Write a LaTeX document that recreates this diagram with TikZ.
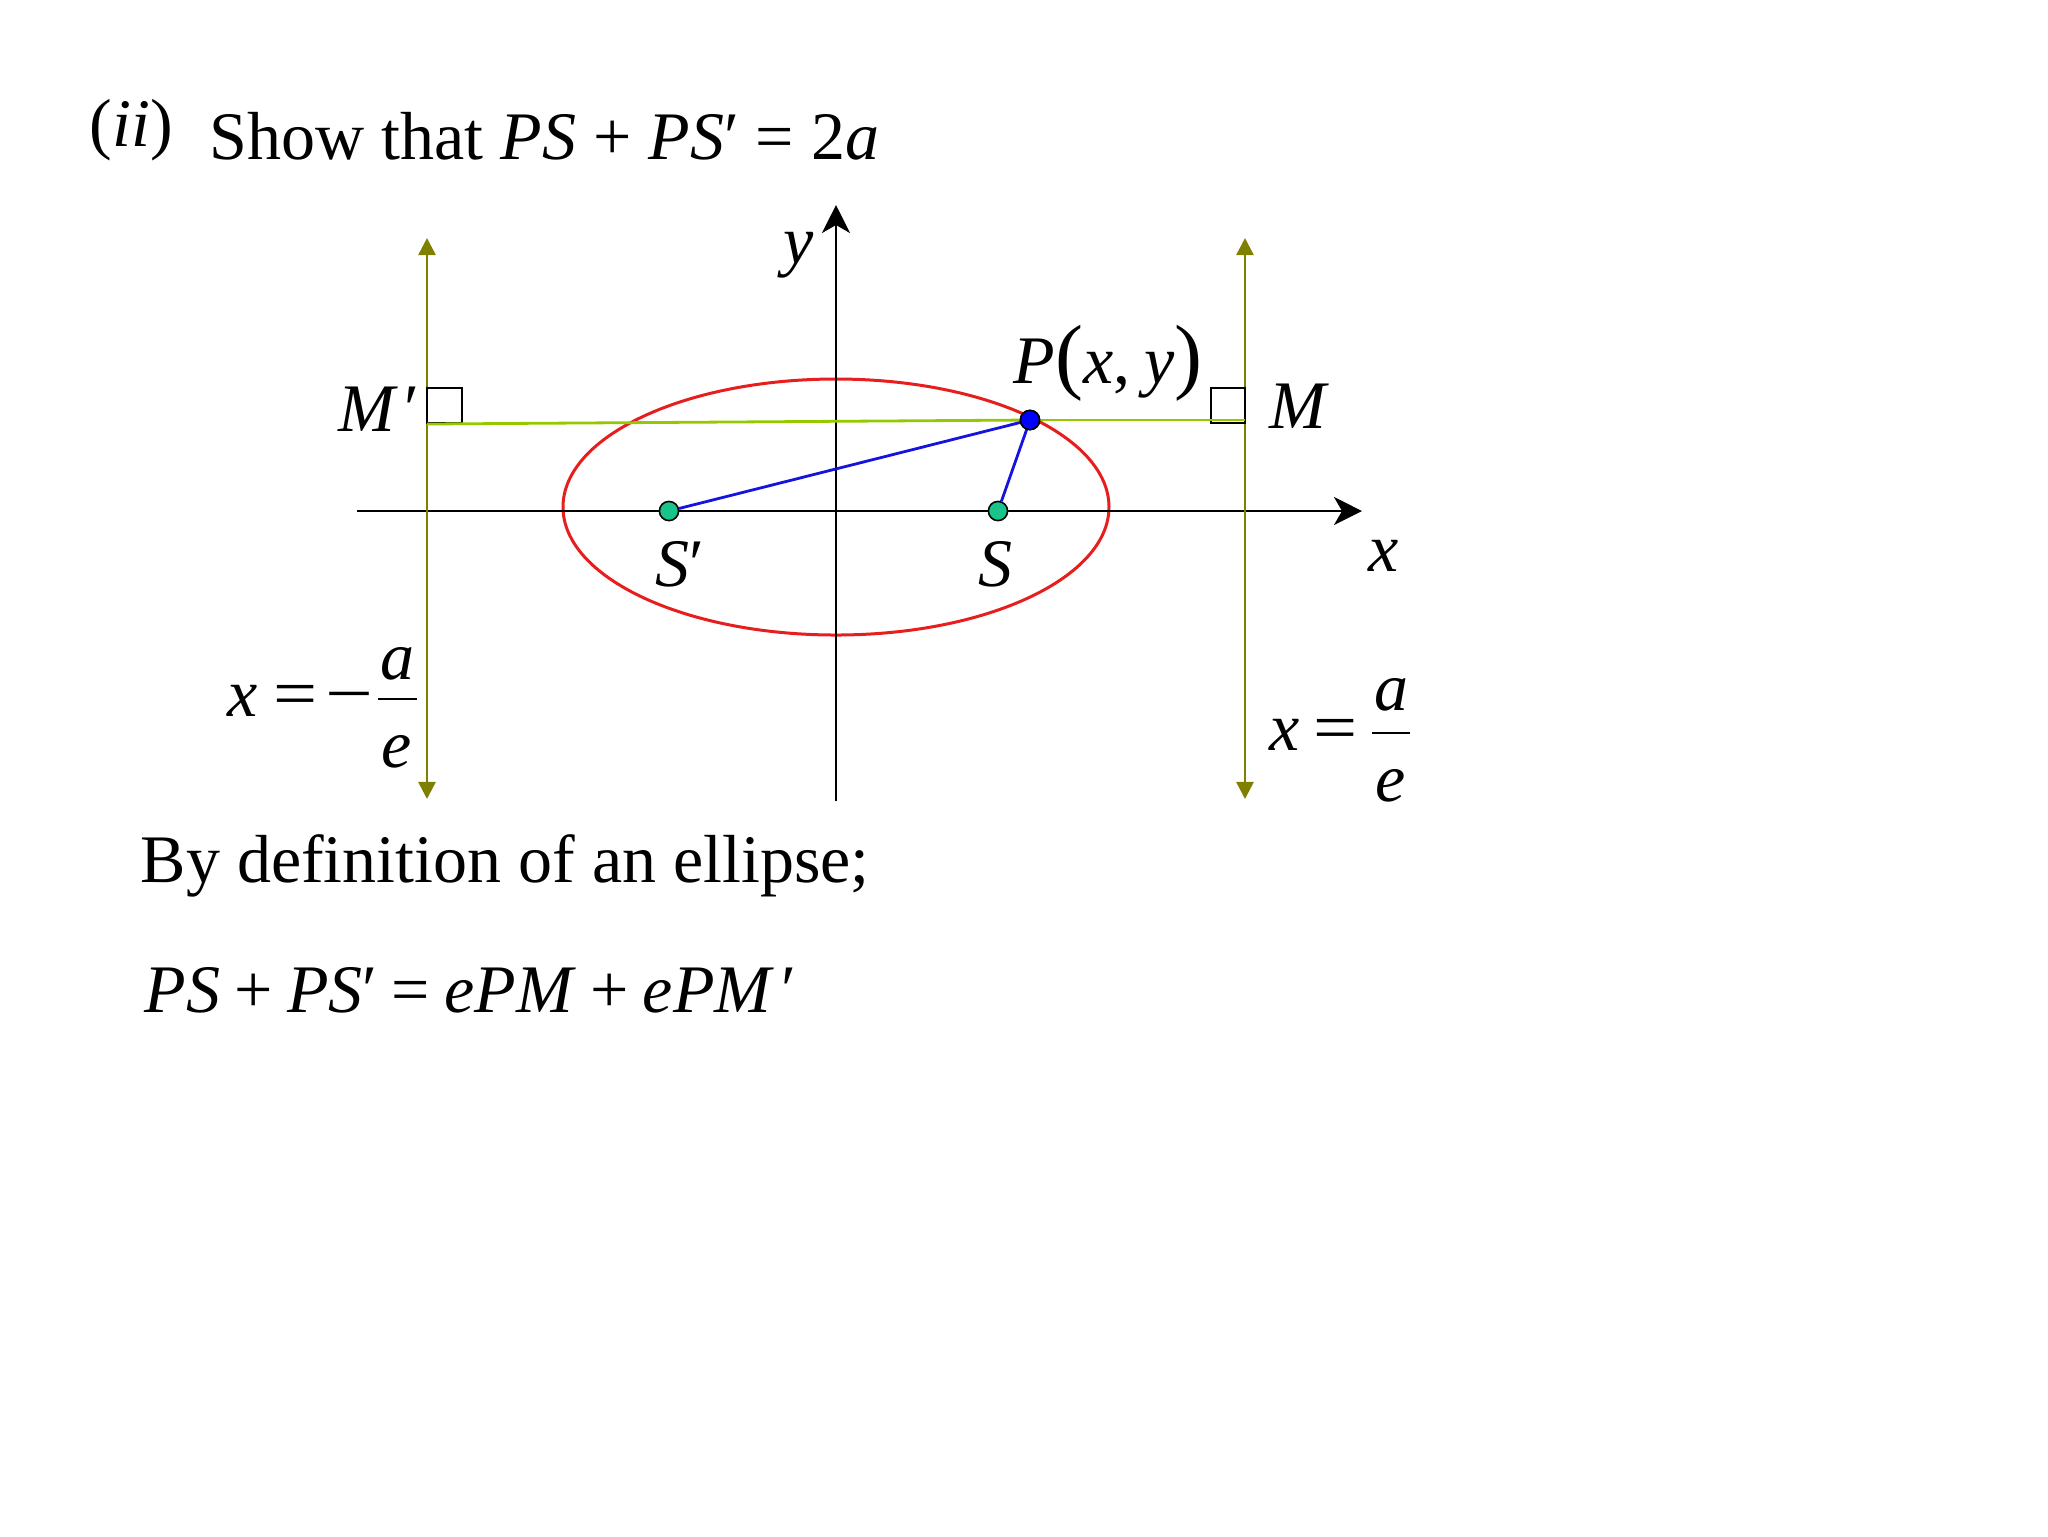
\documentclass[tikz,border=0pt]{standalone}
\usepackage{fontspec}
\usepackage{graphicx}
\setmainfont{Liberation Serif}
\usetikzlibrary{arrows.meta}
\definecolor{ellred}{RGB}{230,30,30}
\definecolor{dirolive}{RGB}{128,128,0}
\definecolor{lgreen}{RGB}{150,200,0}
\definecolor{segblue}{RGB}{20,20,220}
\definecolor{focgreen}{RGB}{25,195,140}
\newcommand{\gapsp}{\hspace{0.25em}}
\newcommand{\gapeq}{\hspace{0.21em}}
\tikzset{
  txt/.style={inner sep=0pt, font=\fontsize{17pt}{20pt}\selectfont},
  axis/.style={line width=0.55pt, -{Stealth[length=7pt,width=7pt,inset=2pt]}},
  directrix/.style={dirolive, line width=0.65pt, {Triangle[length=4.3pt,width=4.3pt]}-{Triangle[length=4.3pt,width=4.3pt]}},
  perp/.style={lgreen, line width=0.7pt},
  seg/.style={segblue, line width=0.7pt},
  focus/.style={circle, draw=black, fill=focgreen, line width=0.4pt, minimum size=4.8pt, inner sep=0pt},
  pdot/.style={circle, draw=black, fill=blue, line width=0.4pt, minimum size=4.8pt, inner sep=0pt},
  sqbox/.style={draw=black, line width=0.5pt}
}
\begin{document}
\begin{tikzpicture}[x=0.25pt,y=-0.25pt]
\useasboundingbox (0,0) rectangle (2048,1536);
% title
\node[txt, anchor=base west] (num) at (89,146) {(\textit{ii})};
\node[txt, anchor=base west] (title) at (209,159) {Show that \textit{PS}\gapsp+\gapsp\textit{PS}′\gapsp=\gapsp2\textit{a}};
% coordinates
\coordinate (O) at (836,511);
\coordinate (xl) at (357,511);
\coordinate (xr) at (1362,511);
\coordinate (yb) at (836,801);
\coordinate (yt) at (836,205);
\coordinate (dlt) at (427,238);
\coordinate (dlb) at (427,799);
\coordinate (drt) at (1245,238);
\coordinate (drb) at (1245,799);
\coordinate (Ml) at (427,424);
\coordinate (Mr) at (1245,420);
% ellipse
\draw[ellred, line width=0.75pt] (836,507) ellipse [x radius=273, y radius=128];
% axes
\draw[axis] (xl) -- (xr);
\draw[axis] (yb) -- (yt);
% directrices
\draw[directrix] (dlb) -- (dlt);
\draw[directrix] (drb) -- (drt);
% right-angle squares
\draw[sqbox] (427,388) rectangle (462,423);
\draw[sqbox] (1211,388) rectangle (1245,423);
% points
\node[focus] (Sp) at (669,511) {};
\node[focus] (S) at (998,511) {};
\node[pdot] (P) at (1030,420) {};
% perpendicular lines
\draw[perp] (Ml) -- (P.center);
\draw[perp] (P.center) -- (Mr);
% focal segments
\draw[seg] (P.center) -- (Sp);
\draw[seg] (P.center) -- (S);
\node[pdot] at (P) {};
% labels
\node[txt, anchor=base west] (ylab) at (783,263) {\textit{y}};
\node[txt, anchor=base west] (xlab) at (1368,571) {\textit{x}};
\node[txt, anchor=base west] (Splab) at (655,586) {\textit{S}′};
\node[txt, anchor=base west] (Slab) at (978,586) {\textit{S}};
\node[txt, anchor=base west] (Mplab) at (338,431) {\textit{M}\hspace{0.08em}′};
\node[txt, anchor=base west] (Mlab) at (1269,428) {\textit{M}};
\node[txt, anchor=base west] (Plab) at (1013,383) {\textit{P}{\fontsize{21pt}{21pt}\selectfont(}\textit{x},\hspace{0.2em}\textit{y}{\fontsize{21pt}{21pt}\selectfont)}};
% directrix equations
\node[txt, anchor=base] (lx) at (243,716) {\textit{x}};
\node[txt, anchor=base] (leq) at (296,716) {\scalebox{1.15}[1]{=}};
\node[txt, anchor=base] (lmin) at (349,716) {\scalebox{1.25}[1]{−}};
\node[txt, anchor=base] (la) at (397,679) {\textit{a}};
\node[txt, anchor=base] (le) at (397,767) {\textit{e}};
\draw[line width=0.3pt] (378,699) -- (417,699);
\node[txt, anchor=base] (rx) at (1285,750) {\textit{x}};
\node[txt, anchor=base] (req) at (1336,750) {\scalebox{1.15}[1]{=}};
\node[txt, anchor=base] (ra) at (1391,710) {\textit{a}};
\node[txt, anchor=base] (re) at (1391,801) {\textit{e}};
\draw[line width=0.3pt] (1372,733) -- (1410,733);
% body text
\node[txt, anchor=base west] (def) at (140,882) {By definition of an ellipse;};
\node[txt, anchor=base west] (eq) at (144,1012) {\textit{PS}\gapeq+\gapeq\textit{PS}′\gapeq=\gapeq\textit{ePM}\gapeq+\gapeq\textit{ePM}\hspace{0.1em}′};
\end{tikzpicture}
\end{document}
